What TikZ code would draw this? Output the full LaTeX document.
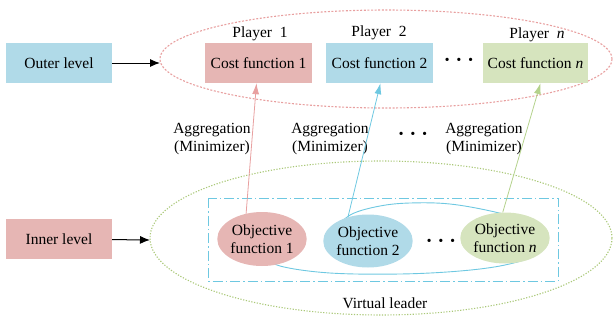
\documentclass[tikz,border=0pt]{standalone}
\usepackage{fontspec}
\setmainfont{Liberation Serif}
\usetikzlibrary{shapes.geometric,arrows.meta,calc}
\definecolor{bfill}{RGB}{176,218,232}
\definecolor{pfill}{RGB}{230,182,180}
\definecolor{gfill}{RGB}{214,228,190}
\definecolor{pline}{RGB}{232,160,160}
\definecolor{bline}{RGB}{110,200,225}
\definecolor{gline}{RGB}{180,210,140}
\definecolor{gdot}{RGB}{170,200,120}
\tikzset{
  every node/.style={font=\fontsize{15.5}{18}\selectfont, align=center},
  boxn/.style={rectangle, draw=none, minimum width=106pt, minimum height=40pt, inner sep=0pt},
  objn/.style={ellipse, draw=none, inner sep=0pt},
  lbl/.style={inner sep=0pt},
  dotsn/.style={inner sep=0pt, font=\fontsize{20}{20}\selectfont\bfseries},
  blk/.style={-{Latex[length=10pt,width=8pt]}, line width=1pt, black},
  carrow/.style={-{Latex[length=11pt,width=7pt]}, line width=0.8pt},
}
\begin{document}
\begin{tikzpicture}[x=1pt,y=-1pt]
\useasboundingbox (0,0) rectangle (614,325);
% big ellipses
\draw[pline, line width=1.1pt, dash pattern=on 2pt off 1.6pt] (386,59) ellipse [x radius=226pt, y radius=49pt];
\draw[gdot, line width=1.1pt, dash pattern=on 1.2pt off 1.6pt] (381,238) ellipse [x radius=231pt, y radius=77pt];
% dash-dot frame
\draw[bline, line width=1pt, dash pattern=on 10pt off 3pt on 1.5pt off 3pt] (208,198) rectangle (558,281);
% cyan curve grouping the objectives (partly hidden behind them)
\draw[bline, line width=0.9pt] plot[smooth, tension=0.6] coordinates {
  (335,228) (352,214) (380,206) (410,203) (450,204) (495,212) (528,222) (544,240)
  (535,255) (505,265) (460,271) (400,274) (330,273) (280,266) (262,255)};
% level boxes
\node[boxn, fill=bfill] (outer) at (59,63) {Outer level};
\node[boxn, fill=pfill] (inner) at (59,239) {Inner level};
\coordinate (oe) at (160,63);
\coordinate (ie) at (150,240);
\draw[blk] (outer) -- (oe);
\draw[blk] (inner) -- (ie);
% cost functions
\node[boxn, fill=pfill, minimum width=107pt] (cf1) at (258.5,63) {Cost function 1};
\node[boxn, fill=bfill, minimum width=107pt] (cf2) at (379.5,63) {Cost function 2};
\node[boxn, fill=gfill, minimum width=105pt] (cfn) at (535.5,63) {Cost function \textit{n}};
\node[dotsn] (dtop) at (459,62) {·\ ·\ ·};
\node[lbl] (p1) at (260,34) {Player~~1};
\node[lbl] (p2) at (379,33) {Player~~2};
\node[lbl] (pn) at (537,35) {Player~~\textit{n}};
% aggregation labels
\node[lbl] (a1) at (212,139) {Aggregation\\(Minimizer)};
\node[lbl] (a2) at (330,139) {Aggregation\\(Minimizer)};
\node[lbl] (an) at (484,139) {Aggregation\\(Minimizer)};
\node[dotsn] (dmid) at (413,136) {·\ ·\ ·};
% objective functions
\node[objn, fill=pfill, minimum width=88pt, minimum height=54pt] (o1) at (262,239) {Objective\\function 1};
\node[objn, fill=bfill, minimum width=89pt, minimum height=53pt] (o2) at (368,241) {Objective\\function 2};
\node[objn, fill=gfill, minimum width=81pt, minimum height=51pt] (on) at (505,238) {Objective\\function \textit{n}};
\node[dotsn] (dbot) at (441,243) {·\ ·\ ·};
\node[lbl] (vl) at (385,303) {Virtual leader};
% arrows
\draw[carrow, pline] (o1.122) -- ($(cf1.south)+(-2,0)$);
\draw[carrow, bline] (o2.130) -- ($(cf2.south)+(1,0)$);
\draw[carrow, gline] (on.95) -- ($(cfn.south)+(5,0)$);
\end{tikzpicture}
\end{document}
